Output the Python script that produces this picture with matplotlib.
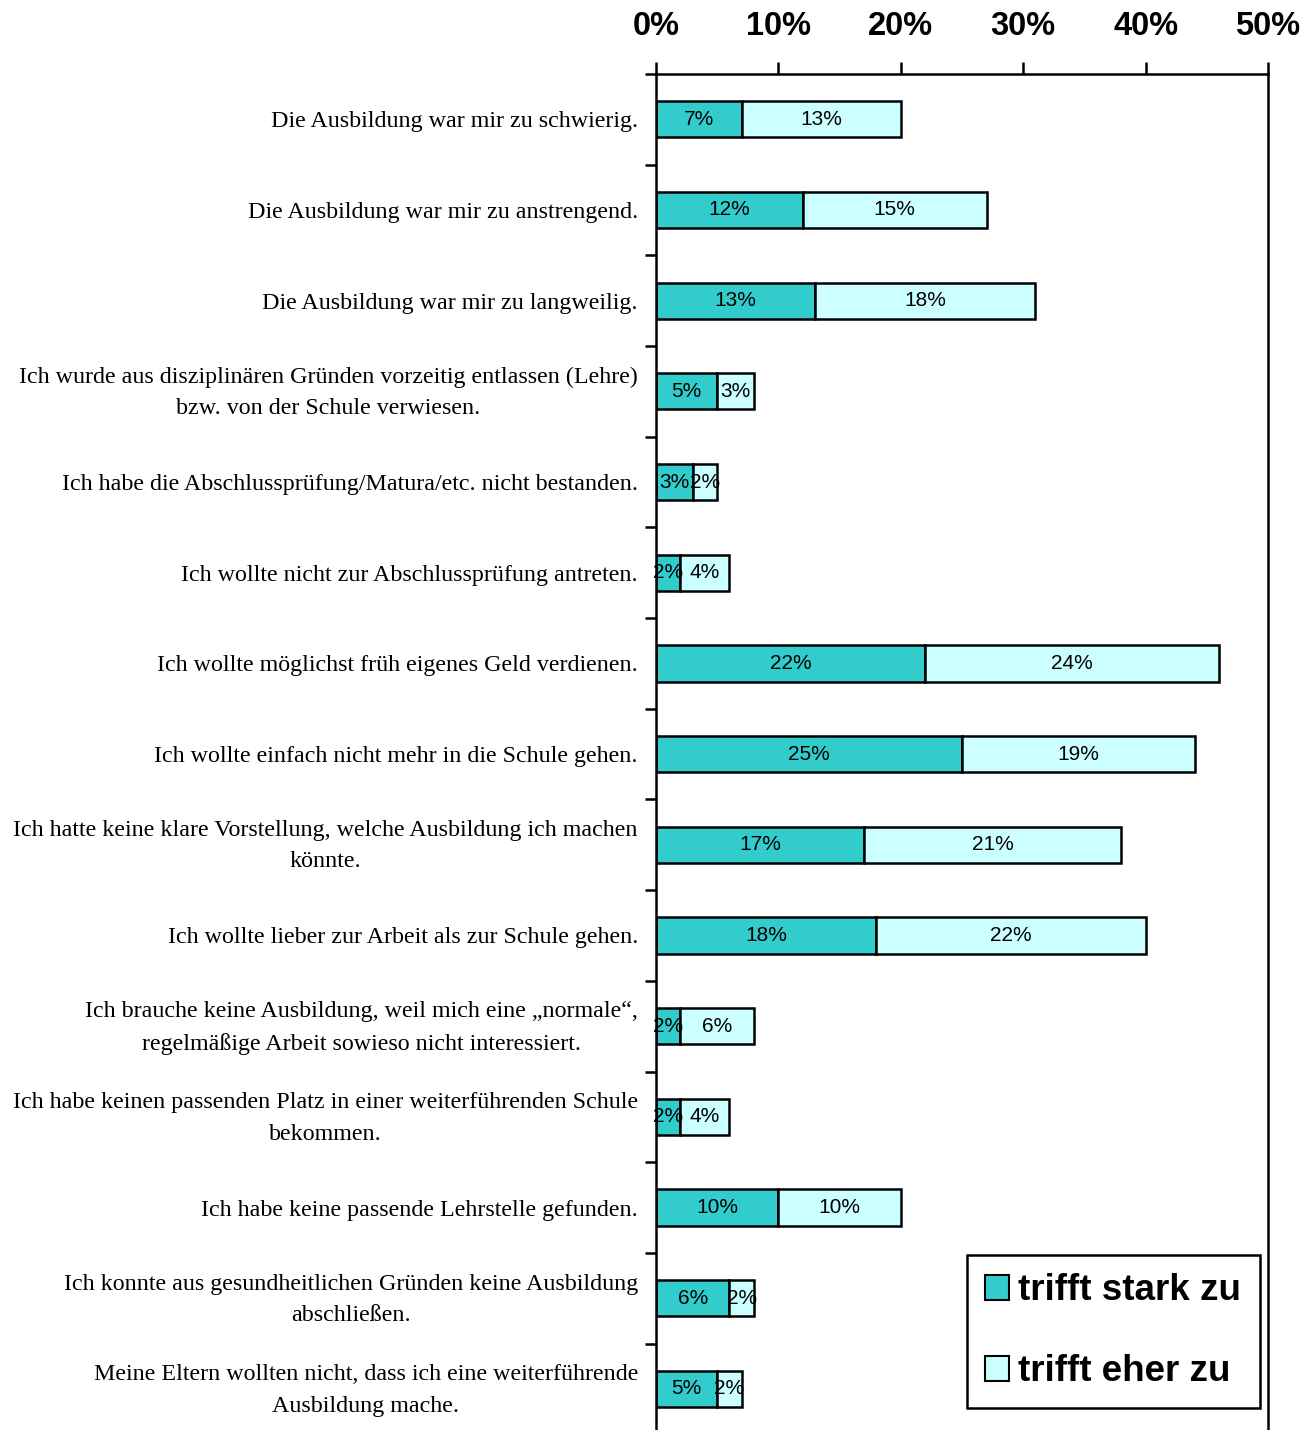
import matplotlib.pyplot as plt
import matplotlib.transforms as mtransforms
import numpy as np

# reasons for leaving education early (share of answers)
categories = [
    "Die Ausbildung war mir zu schwierig.",
    "Die Ausbildung war mir zu anstrengend.",
    "Die Ausbildung war mir zu langweilig.",
    "Ich wurde aus disziplinären Gründen vorzeitig entlassen (Lehre)\nbzw. von der Schule verwiesen.",
    "Ich habe die Abschlussprüfung/Matura/etc. nicht bestanden.",
    "Ich wollte nicht zur Abschlussprüfung antreten.",
    "Ich wollte möglichst früh eigenes Geld verdienen.",
    "Ich wollte einfach nicht mehr in die Schule gehen.",
    "Ich hatte keine klare Vorstellung, welche Ausbildung ich machen\nkönnte.",
    "Ich wollte lieber zur Arbeit als zur Schule gehen.",
    "Ich brauche keine Ausbildung, weil mich eine \u201enormale\u201c,\nregelmäßige Arbeit sowieso nicht interessiert.",
    "Ich habe keinen passenden Platz in einer weiterführenden Schule\nbekommen.",
    "Ich habe keine passende Lehrstelle gefunden.",
    "Ich konnte aus gesundheitlichen Gründen keine Ausbildung\nabschließen.",
    "Meine Eltern wollten nicht, dass ich eine weiterführende\nAusbildung mache.",
]
stark = [7, 12, 13, 5, 3, 2, 22, 25, 17, 18, 2, 2, 10, 6, 5]
eher = [13, 15, 18, 3, 2, 4, 24, 19, 21, 22, 6, 4, 10, 2, 2]
series_names = ["trifft stark zu", "trifft eher zu"]
x_ticks = [0, 10, 20, 30, 40, 50]

col_stark = "#33CCCC"
col_eher = "#CCFFFF"

fig = plt.figure(figsize=(13.12, 14.30), dpi=100)
ax = fig.add_axes([0.5, -0.003, 0.4665, 0.9513])

y = np.arange(len(categories))
b1 = ax.barh(y, stark, height=0.4, color=col_stark, edgecolor="black",
             linewidth=1.8, label=series_names[0])
b2 = ax.barh(y, eher, left=stark, height=0.4, color=col_eher,
             edgecolor="black", linewidth=1.8, label=series_names[1])

for i in range(len(categories)):
    ax.text(stark[i] / 2, y[i], f"{stark[i]}%", ha="center", va="center",
            fontsize=15, family="Liberation Sans")
    ax.text(stark[i] + eher[i] / 2, y[i], f"{eher[i]}%", ha="center",
            va="center", fontsize=15, family="Liberation Sans")

ax.set_xlim(0, 50)
ax.set_ylim(len(categories) - 0.5, -0.5)

# x axis on top
ax.xaxis.set_ticks_position("top")
ax.xaxis.set_label_position("top")
ax.set_xticks(x_ticks)
ax.set_xticklabels([f"{t}%" for t in x_ticks], fontsize=23.5,
                   fontweight="bold", family="Liberation Sans")
ax.tick_params(axis="x", direction="out", length=9, width=1.8, pad=14)

# category labels, ticks between the rows
ax.set_yticks(y)
ax.set_yticklabels(categories, fontsize=17.3, family="Liberation Serif",
                   multialignment="center", linespacing=1.65)
ax.tick_params(axis="y", which="major", length=0, pad=13)
ax.set_yticks(np.arange(-0.5, len(categories)), minor=True)
ax.tick_params(axis="y", which="minor", direction="out", length=8, width=1.8)

# two-line labels sit a little high in the original
up = mtransforms.ScaledTranslation(0, 4.5 / 72, fig.dpi_scale_trans)
for lab in ax.get_yticklabels():
    if "\n" in lab.get_text():
        lab.set_transform(lab.get_transform() + up)

for s in ["top", "left", "right"]:
    ax.spines[s].set_linewidth(1.8)
ax.spines["bottom"].set_visible(False)

leg = fig.legend(handles=[b1, b2], loc="upper left",
                 bbox_to_anchor=(0.737, 0.1224), frameon=True, fancybox=False,
                 edgecolor="black", framealpha=1,
                 prop={"family": "Liberation Sans", "weight": "bold", "size": 26.5},
                 handlelength=0.65, handleheight=0.65, handletextpad=0.25,
                 labelspacing=1.25, borderpad=0.5, borderaxespad=0)
leg.get_frame().set_linewidth(1.8)
for h in leg.legend_handles:
    h.set_linewidth(1.5)

fig.savefig("out.png", dpi=100)
